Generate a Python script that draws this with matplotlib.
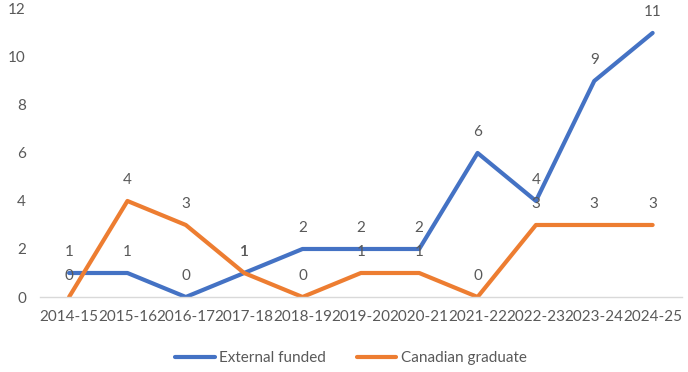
import matplotlib
matplotlib.use("Agg")
import matplotlib.pyplot as plt

# Données
years = ["2014-15", "2015-16", "2016-17", "2017-18", "2018-19", "2019-20",
         "2020-21", "2021-22", "2022-23", "2023-24", "2024-25"]
external_funded = [1, 1, 0, 1, 2, 2, 2, 6, 4, 9, 11]
canadian_graduate = [0, 4, 3, 1, 0, 1, 1, 0, 3, 3, 3]

blue = "#4472C4"
orange = "#ED7D31"
grey = "#595959"

plt.rcParams["font.family"] = ["Lato", "DejaVu Sans"]

fig = plt.figure(figsize=(6.88, 3.72), dpi=100)
ax = fig.add_axes([0.058, 0.2016, 0.933, 0.7744])

x = list(range(len(years)))
ax.plot(x, external_funded, color=blue, lw=3, label="External funded", solid_capstyle="round")
ax.plot(x, canadian_graduate, color=orange, lw=3, label="Canadian graduate", solid_capstyle="round")

# étiquettes de valeurs au-dessus des points
for serie in (external_funded, canadian_graduate):
    for xi, v in zip(x, serie):
        ax.annotate(str(v), (xi, v), xytext=(0, 10), textcoords="offset points",
                    ha="center", va="bottom", fontsize=11, color=grey)

ax.set_xlim(-0.5, len(years) - 0.5)
ax.set_ylim(0, 12)
ax.set_yticks(range(0, 13, 2))
ax.set_xticks(x)
ax.set_xticklabels(years)
ax.tick_params(axis="both", length=0, labelsize=11, colors=grey)
ax.tick_params(axis="x", pad=9)
ax.tick_params(axis="y", pad=10)

for s in ("top", "right", "left"):
    ax.spines[s].set_visible(False)
ax.spines["bottom"].set_color("#D9D9D9")
ax.spines["bottom"].set_linewidth(1)

fig.legend(loc="center", bbox_to_anchor=(0.51, 0.038), ncol=2, frameon=False,
           fontsize=11, labelcolor=grey, handlelength=2.6, handletextpad=0.3,
           columnspacing=2.0)

fig.savefig("out.png", dpi=100)
